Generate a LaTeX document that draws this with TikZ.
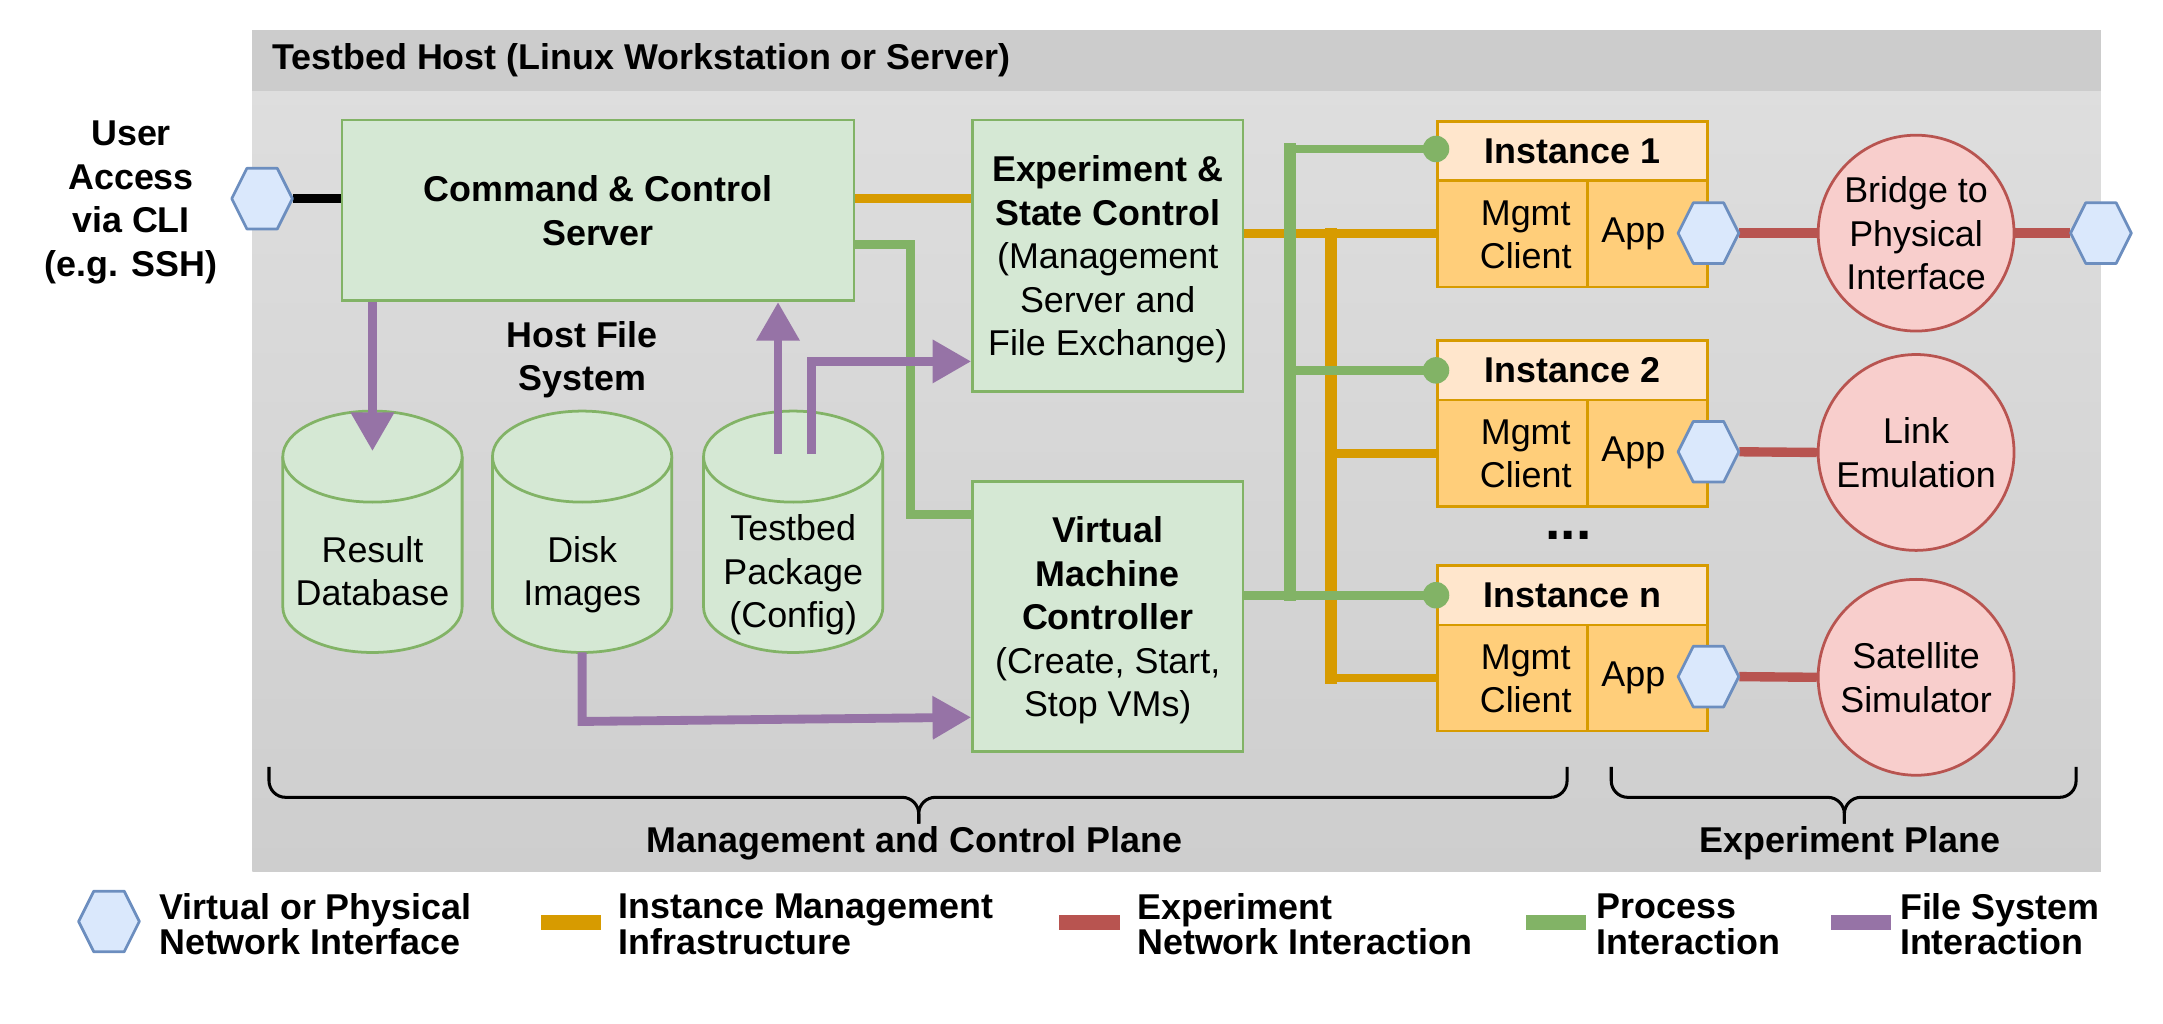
\documentclass[tikz,border=0pt]{standalone}
\usepackage{fontspec}
\setmainfont{Liberation Sans}
\usetikzlibrary{calc,arrows.meta}
\definecolor{gcol}{HTML}{82B366}
\definecolor{gfill}{HTML}{D5E8D4}
\definecolor{bcol}{HTML}{6C8EBF}
\definecolor{bfill}{HTML}{DAE8FC}
\definecolor{ocol}{HTML}{D79B00}
\definecolor{ofill}{HTML}{FFE6CC}
\definecolor{ofilltwo}{HTML}{FFCE7A}
\definecolor{rcol}{HTML}{B85450}
\definecolor{rfill}{HTML}{F8CECC}
\definecolor{pcol}{HTML}{9673A6}
\definecolor{hdrgray}{HTML}{CCCCCC}
\definecolor{bgtop}{HTML}{DFDFDF}
\definecolor{bgbot}{HTML}{CECECE}
\tikzset{
  box/.style={draw=gcol, fill=gfill, line width=1pt, align=center, inner sep=0pt, text depth=0pt},
  ititle/.style={draw=ocol, fill=ofill, line width=1pt, minimum width=98pt, minimum height=21.5pt, inner sep=0pt, font=\bfseries},
  icell/.style={draw=ocol, fill=ofilltwo, line width=1pt, minimum height=38.5pt, inner sep=0pt},
  circ/.style={circle, draw=rcol, fill=rfill, line width=1pt, minimum size=71pt, inner sep=0pt, align=center, text depth=0pt},
  cylst/.style={draw=gcol, fill=gfill, line width=1pt},
  hexanchor/.style={rectangle, draw=none, minimum width=22pt, minimum height=22pt, inner sep=0pt},
  hexst/.style={draw=bcol, fill=bfill, line width=1pt, line join=round},
  oline/.style={draw=ocol, line width=3.2pt},
  obus/.style={draw=ocol, line width=4.3pt, line cap=rect},
  gline/.style={draw=gcol, line width=3.2pt},
  gbus/.style={draw=gcol, line width=4.5pt, line cap=rect},
  rline/.style={draw=rcol, line width=3.4pt},
  parrow/.style={draw=pcol, line width=3.2pt, -{Triangle[length=14pt,width=15pt]}},
  bracest/.style={draw=black, line width=1.1pt, rounded corners=6pt},
  lbar/.style={minimum width=22pt, minimum height=5.5pt, inner sep=0pt, draw=none},
  ltxt/.style={anchor=west, align=left, inner sep=0pt, font=\bfseries\fontsize{13}{13}\selectfont},
  txt/.style={align=center, text depth=0pt}
}
\newcommand\hexanch[3]{\node[hexanchor] (#1) at (#2,#3) {};}
\newcommand\hexdraw[1]{\draw[hexst] ($(#1)+(-22,0)$) -- ($(#1)+(-11,-22)$) -- ($(#1)+(11,-22)$) -- ($(#1)+(22,0)$) -- ($(#1)+(11,22)$) -- ($(#1)+(-11,22)$) -- cycle;}
\newcommand\cylshape[1]{%
  \filldraw[cylst] (#1-65,331) -- (#1-65,440) arc[start angle=180,end angle=0,x radius=65,y radius=33] -- (#1+65,331);
  \filldraw[cylst] (#1,331) ellipse[x radius=65,y radius=33];}
\newcommand\instbox[3]{%
  \node[ititle] (#1t) at (1140,#2+21.5) {#3};
  \node[icell, minimum width=54.5pt] (#1m) at (1096.5,#2+81.5) {};
  \node[icell, minimum width=43.5pt] (#1a) at (1194.5,#2+81.5) {};
  \node[txt] (#1mt) at (1106,#2+82) {Mgmt\\Client};
  \node (#1at) at (1184,#2+81.5) {App};}
\begin{document}
\fontsize{13}{15.75}\selectfont
\begin{tikzpicture}[x=0.5pt,y=-0.5pt]
\useasboundingbox (0,0) rectangle (1568,742);
% host area
\node[shade, top color=bgtop, bottom color=bgbot, minimum width=670pt, minimum height=305pt, inner sep=0pt, draw=none] (host) at (853,327) {};
\node[fill=hdrgray, minimum width=670pt, minimum height=22pt, inner sep=0pt] (hdr) at (853,44) {};
\node[anchor=west, font=\bfseries, inner sep=0pt] (hdrt) at (197,44) {Testbed Host (Linux Workstation or Server)};
% user access
\node[txt, font=\bfseries] (ua) at (95,144) {User\\Access\\via CLI\\(e.g. SSH)};
% main boxes
\node[box, minimum width=185.5pt, minimum height=65.5pt, font=\bfseries] (cc) at (433.5,152.5) {Command \& Control\\Server};
\node[box, minimum width=98pt, minimum height=98.5pt] (esc) at (803,185.5) {\textbf{Experiment \&}\\\textbf{State Control}\\(Management\\Server and\\File Exchange)};
\node[box, minimum width=98pt, minimum height=98pt] (vm) at (803,447) {\textbf{Virtual}\\\textbf{Machine}\\\textbf{Controller}\\(Create, Start,\\Stop VMs)};
% file system
\node[txt, font=\bfseries] (hfs) at (422,258) {Host File\\System};
\cylshape{270}
\cylshape{422}
\cylshape{575}
\node[txt] (rdb) at (270,414) {Result\\Database};
\node[txt] (dimg) at (422,414) {Disk\\Images};
\node[txt] (tpkg) at (575,414) {Testbed\\Package\\(Config)};
% instances
\instbox{i1}{88}{Instance 1}
\instbox{i2}{247}{Instance 2}
\instbox{in}{410}{Instance n}
\node[font=\bfseries\fontsize{20}{24}\selectfont] (dots) at (1137,388) {...};
% experiment plane circles
\node[circ] (brg) at (1389,169) {Bridge to\\Physical\\Interface};
\node[circ] (lnk) at (1389,328) {Link\\Emulation};
\node[circ] (sat) at (1389,491) {Satellite\\Simulator};
% hexagon anchors
\hexanch{hu}{190}{144}
\hexanch{a1}{1238.5}{169}
\hexanch{a2}{1238.5}{327.5}
\hexanch{an}{1238.5}{490.5}
\hexanch{hx}{1523}{169}
\hexanch{hl}{79}{668}
% black access line
\draw[line width=3.2pt] (hu.east) -- (cc.west |- hu);
% orange lines
\draw[oline] (cc.east |- hu) -- (esc.west |- hu);
\draw[oline] (esc.east |- i1m.west) -- (i1m.west);
\coordinate (obt) at ($(i1m.west)+(-76,0)$);
\draw[obus] (obt) -- (obt |- inm.west);
\draw[oline] (obt |- i2m.west) -- (i2m.west);
\draw[oline] (obt |- inm.west) -- (inm.west);
% green lines
\draw[gline] (cc.east |- 0,177) -- (660,177) -- (660,373) -- (vm.west |- 0,373);
\coordinate (gbt) at ($(i1t.west)+(-106,-1.5)$);
\draw[gbus] (gbt) -- (gbt |- int.west);
\draw[gline] (gbt) -- (i1t.west |- gbt);
\draw[gline] (gbt |- i2t.west) -- (i2t.west);
\draw[gline] (vm.east |- int.west) -- (int.west);
\fill[gcol] (i1t.west |- gbt) circle[radius=4.8pt];
\fill[gcol] (i2t.west) circle[radius=4.8pt];
\fill[gcol] (int.west) circle[radius=4.8pt];
% red lines
\draw[rline] (a1.east) -- (brg.west);
\draw[rline] (a2.east) -- (lnk.west);
\draw[rline] (an.east) -- (sat.west);
\draw[rline] (brg.east) -- (hx.west);
% purple arrows
\coordinate (tp1) at (564,329);
\coordinate (tp2) at (588,329);
\draw[parrow] (cc.south -| rdb) -- (rdb |- 0,327);
\draw[parrow] (tp1) -- (tp1 |- cc.south);
\draw[parrow] (tp2) |- (esc.west |- 0,262);
\draw[parrow] (dimg |- 0,473) -- (dimg |- 0,523) -- (vm.west |- 0,520);
% hexagons
\hexdraw{hu}
\hexdraw{a1}
\hexdraw{a2}
\hexdraw{an}
\hexdraw{hx}
\hexdraw{hl}
% braces
\coordinate (mb1) at (195,556);
\coordinate (mb2) at (1136,556);
\coordinate (mbt) at (666,597);
\draw[bracest] (mb1) -- (195,578) -- (666,578) -- (mbt);
\draw[bracest] (mb2) -- (1136,578) -- (666,578) -- (mbt);
\coordinate (eb1) at (1168,556);
\coordinate (eb2) at (1505,556);
\coordinate (ebt) at (1337,597);
\draw[bracest] (eb1) -- (1168,578) -- (1337,578) -- (ebt);
\draw[bracest] (eb2) -- (1505,578) -- (1337,578) -- (ebt);
\node[font=\bfseries] (mcp) at (663,611) {Management and Control Plane};
\node[font=\bfseries] (ep) at (1341,611) {Experiment Plane};
% legend
\node[ltxt] (lht) at (115,670) {Virtual or Physical\\Network Interface};
\node[lbar, fill=ocol] (lo) at (414,668.5) {};
\node[ltxt] (lot) at (448,670) {Instance Management\\Infrastructure};
\node[lbar, fill=rcol] (lr) at (790,668.5) {};
\node[ltxt] (lrt) at (824,670) {Experiment\\Network Interaction};
\node[lbar, fill=gcol] (lg) at (1128,668.5) {};
\node[ltxt] (lgt) at (1157,670) {Process\\Interaction};
\node[lbar, fill=pcol] (lp) at (1349,668.5) {};
\node[ltxt] (lpt) at (1377,670) {File System\\Interaction};
\end{tikzpicture}
\end{document}
